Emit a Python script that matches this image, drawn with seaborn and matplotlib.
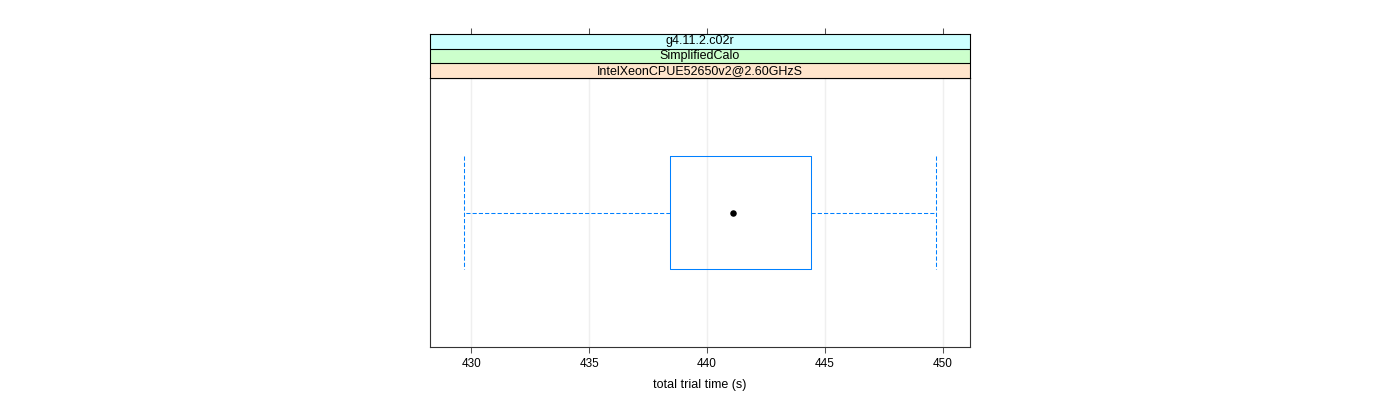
import matplotlib
matplotlib.use('Agg')
import matplotlib.pyplot as plt
import numpy as np
import seaborn as sns

# values (min, Q1, median, Q3, max of trial times)
trial_times = [429.69, 438.44, 441.09, 444.41, 449.72]
x_ticks = [430, 435, 440, 445, 450]
x_limits = (428.26, 451.14)
strip_labels = ['IntelXeonCPUE52650v2@2.60GHzS', 'SimplifiedCalo', 'g4.11.2.c02r']
strip_colors = ['#ffe5cc', '#ccffcc', '#ccffff']
x_label = 'total trial time (s)'

sns.set_theme(style='white')
plt.rcParams['font.family'] = ['Liberation Sans', 'DejaVu Sans']
plt.rcParams['font.size'] = 9
plt.rcParams['text.color'] = 'black'
plt.rcParams['axes.labelcolor'] = 'black'
plt.rcParams['xtick.color'] = 'black'

fig = plt.figure(figsize=(14, 4), dpi=100)
left, width = 430 / 1400, 540 / 1400
ax = fig.add_axes([left, 53 / 400, width, 269 / 400])
ax_strip = fig.add_axes([left, 322 / 400, width, 44 / 400])

# main panel
for t in x_ticks:
    ax.axvline(t, color='#efefef', lw=1, zorder=0)

dash = (0, (4, 2))
sns.boxplot(x=trial_times, orient='h', ax=ax, color='#0080ff', fill=False,
            width=0.5, linewidth=0.75, whis=1.5, capwidths=0.5,
            whiskerprops={'linestyle': dash}, capprops={'linestyle': dash},
            medianprops={'visible': False}, showfliers=False)
sns.scatterplot(x=[np.median(trial_times)], y=[0], ax=ax, color='black', s=22,
                edgecolor='black', linewidth=0, zorder=5)

ax.set_xlim(*x_limits)
ax.set_ylim(0.6, -0.6)
ax.set_xticks(x_ticks)
ax.set_xticklabels([str(t) for t in x_ticks])
ax.set_yticks([])
ax.set_ylabel('')
ax.set_xlabel(x_label, fontsize=9, labelpad=7)
ax.tick_params(axis='x', direction='out', length=4.6, width=0.75, color='#555555',
               labelcolor='black', labelsize=8.5, pad=3, bottom=True, top=False)
for s in ax.spines.values():
    s.set_visible(True)
    s.set_color('#333333')
    s.set_linewidth(0.8)

# strips
ax_strip.set_xlim(*x_limits)
ax_strip.set_ylim(0, 3)
for i, (lab, col) in enumerate(zip(strip_labels, strip_colors)):
    ax_strip.axhspan(i, i + 1, color=col, zorder=0)
    if i > 0:
        ax_strip.axhline(i, color='black', lw=0.8)
    ax_strip.text(np.mean(x_limits), i + 0.5, lab, ha='center', va='center',
                  fontsize=9, color='black')
ax_strip.set_yticks([])
ax_strip.set_xticks(x_ticks)
ax_strip.tick_params(axis='x', direction='out', length=4.6, width=0.75, color='#555555',
                     bottom=False, top=True, labelbottom=False, labeltop=False)
for s in ax_strip.spines.values():
    s.set_visible(True)
    s.set_color('black')
    s.set_linewidth(0.8)

fig.savefig('out.png', dpi=100, facecolor='white')
